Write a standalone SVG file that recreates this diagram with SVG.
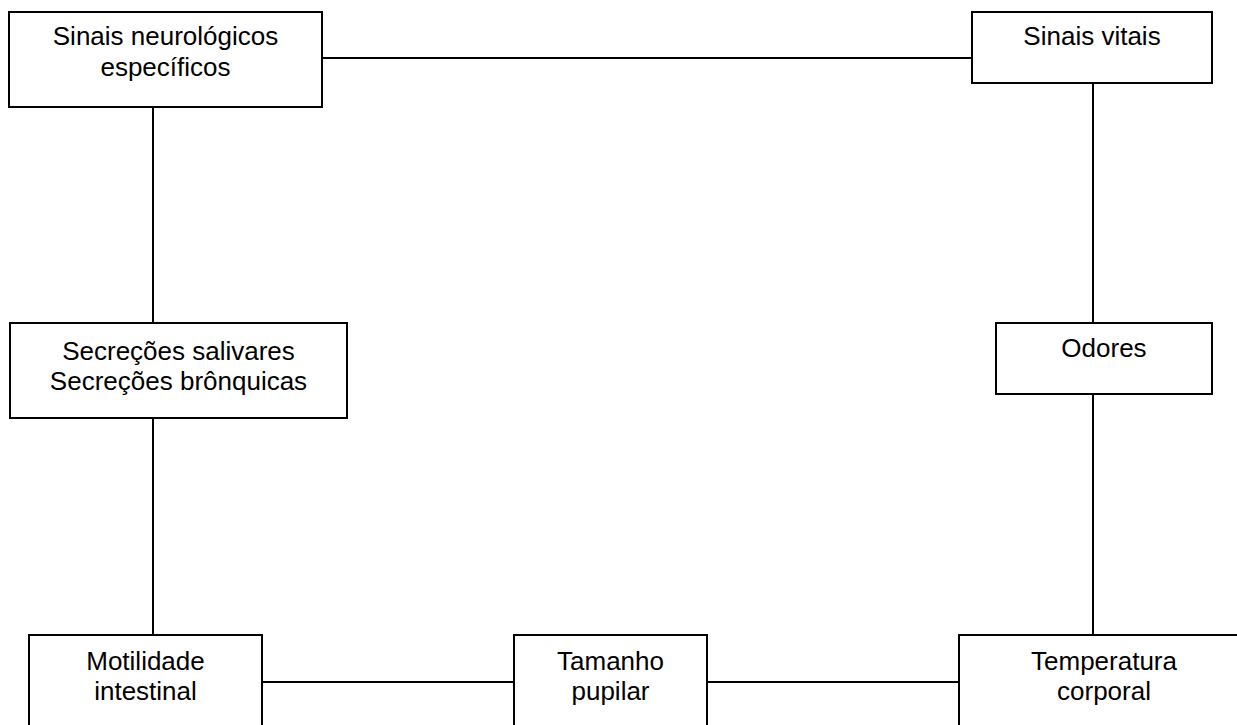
<svg xmlns="http://www.w3.org/2000/svg" width="1237" height="725" viewBox="0 0 1237 725">
<style>
.box{fill:#fff;stroke:#000;stroke-width:2}
.t{font-family:"Liberation Sans",Arial,sans-serif;font-size:26px;fill:#000;text-anchor:middle}
.c{stroke:#000;stroke-width:2;fill:none}
</style>
<rect width="1237" height="725" fill="#fff"/>
<g id="connectors">
<line class="c" x1="322" y1="58" x2="972" y2="58"/>
<line class="c" x1="153" y1="107" x2="153" y2="323"/>
<line class="c" x1="153" y1="418" x2="153" y2="635"/>
<line class="c" x1="1093" y1="83" x2="1093" y2="323"/>
<line class="c" x1="1093" y1="394" x2="1093" y2="635"/>
<line class="c" x1="262" y1="682" x2="514" y2="682"/>
<line class="c" x1="707" y1="682" x2="959" y2="682"/>
</g>
<g id="n1">
<rect class="box" x="9" y="12" width="313" height="95"/>
<text class="t" x="165.5" y="45">Sinais neurológicos</text>
<text class="t" x="165.5" y="76">específicos</text>
</g>
<g id="n2">
<rect class="box" x="972" y="12" width="240" height="71"/>
<text class="t" x="1092" y="45">Sinais vitais</text>
</g>
<g id="n3">
<rect class="box" x="10" y="323" width="337" height="95"/>
<text class="t" x="178.5" y="360">Secreções salivares</text>
<text class="t" x="178.5" y="390">Secreções brônquicas</text>
</g>
<g id="n4">
<rect class="box" x="996" y="323" width="216" height="71"/>
<text class="t" x="1104" y="357">Odores</text>
</g>
<g id="n5">
<rect class="box" x="29" y="635" width="233" height="100"/>
<text class="t" x="145.5" y="670">Motilidade</text>
<text class="t" x="145.5" y="700">intestinal</text>
</g>
<g id="n6">
<rect class="box" x="514" y="635" width="193" height="100"/>
<text class="t" x="610.5" y="670">Tamanho</text>
<text class="t" x="610.5" y="700">pupilar</text>
</g>
<g id="n7">
<rect class="box" x="959" y="635" width="290" height="100"/>
<text class="t" x="1104" y="670">Temperatura</text>
<text class="t" x="1104" y="700">corporal</text>
</g>
</svg>
